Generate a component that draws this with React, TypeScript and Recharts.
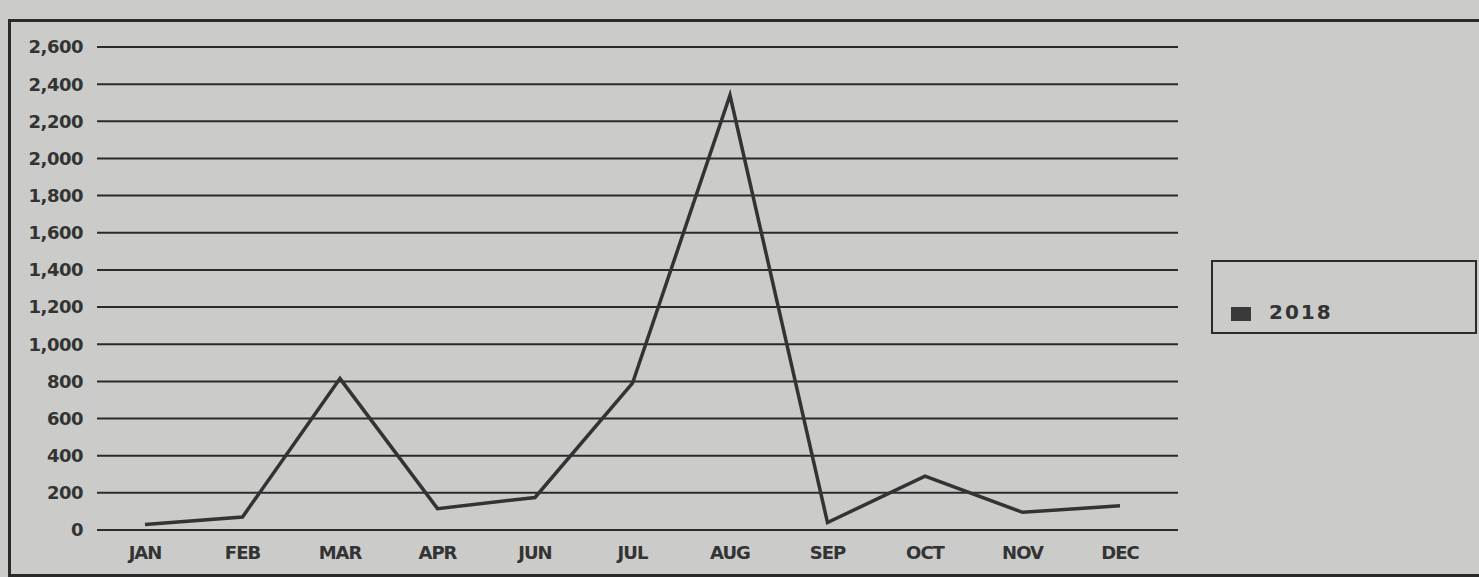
import { LineChart, Line, XAxis, YAxis, CartesianGrid } from 'recharts';

const months = ['JAN', 'FEB', 'MAR', 'APR', 'JUN', 'JUL', 'AUG', 'SEP', 'OCT', 'NOV', 'DEC'];
const values2018 = [30, 70, 815, 115, 175, 790, 2340, 40, 290, 95, 130];
const yTicks = [0, 200, 400, 600, 800, 1000, 1200, 1400, 1600, 1800, 2000, 2200, 2400, 2600];

const data = months.map((m, i) => ({ month: m, y2018: values2018[i] }));

const INK = '#2b2b2b';
const FONT = '"DejaVu Sans", Verdana, sans-serif';

// legend is drawn outside the chart so it doesn't shrink the plot area
const LegendBox = () => (
  <div
    style={{
      position: 'absolute',
      left: 1211,
      top: 260,
      width: 262,
      height: 70,
      border: `2px solid ${INK}`,
      fontFamily: FONT,
    }}
  >
    <div style={{ position: 'absolute', left: 18, top: 45, width: 20, height: 14, background: '#3a3a3c' }} />
    <div
      style={{
        position: 'absolute',
        left: 56,
        top: 38,
        fontSize: 20,
        fontWeight: 'bold',
        color: '#333',
        letterSpacing: 2,
        lineHeight: '24px',
      }}
    >
      2018
    </div>
  </div>
);

const App = () => {
  return (
    <div
      style={{
        position: 'fixed',
        left: 0,
        top: 0,
        width: 1479,
        height: 577,
        background: '#cbcbc9',
        overflow: 'hidden',
      }}
    >
      <div
        style={{
          position: 'absolute',
          left: 8,
          top: 19,
          width: 1480,
          height: 552,
          borderLeft: `3px solid ${INK}`,
          borderTop: `3px solid ${INK}`,
          borderBottom: `3px solid ${INK}`,
        }}
      />
      <LineChart
        width={1479}
        height={577}
        data={data}
        margin={{ top: 47, right: 301, bottom: 17, left: 0 }}
        style={{ position: 'absolute', left: 0, top: 0 }}
      >
        <CartesianGrid vertical={false} stroke={INK} strokeWidth={2} />
        <XAxis
          dataKey="month"
          height={30}
          axisLine={false}
          tickLine={false}
          padding={{ left: 48, right: 58 }}
          tickMargin={10}
          interval={0}
          tick={{ fill: '#333', fontSize: 18, fontWeight: 'bold', fontFamily: FONT, letterSpacing: -1 }}
        />
        <YAxis
          width={97}
          domain={[0, 2600]}
          ticks={yTicks}
          interval={0}
          axisLine={false}
          tickLine={false}
          tickMargin={8}
          tickFormatter={(v: number) => v.toLocaleString('en-US')}
          tick={{ fill: '#333', fontSize: 18, fontWeight: 'bold', fontFamily: FONT, letterSpacing: -0.5 }}
        />
        <Line
          type="linear"
          dataKey="y2018"
          name="2018"
          stroke="#333"
          strokeWidth={3.5}
          dot={false}
          activeDot={false}
          isAnimationActive={false}
        />
      </LineChart>
      <LegendBox />
    </div>
  );
};

export default App;
